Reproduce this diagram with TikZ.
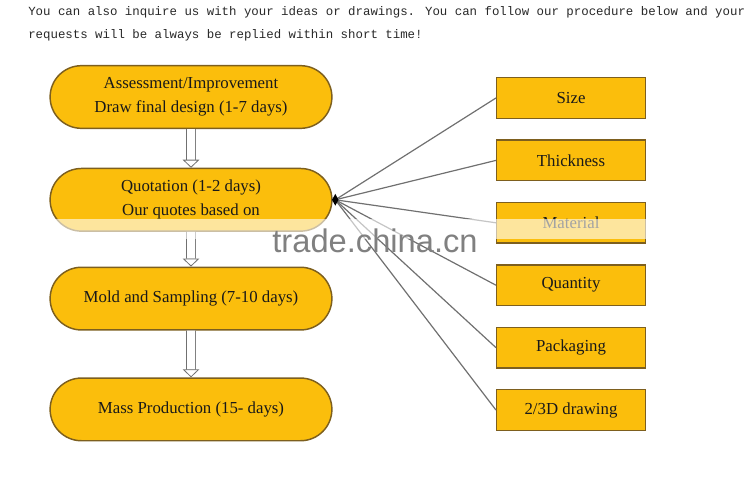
\documentclass[tikz,border=0pt]{standalone}
\usepackage{fontspec}
\setmainfont{Liberation Serif}
\newfontfamily\notefont{Liberation Mono}
\newfontfamily\markfont{Liberation Sans}
\usetikzlibrary{positioning,shapes.misc,shapes.geometric,arrows.meta}
\definecolor{stagefill}{RGB}{251,190,12}
\definecolor{stageline}{RGB}{125,95,30}
\definecolor{linkgray}{RGB}{112,112,112}
\definecolor{notegray}{RGB}{40,40,40}

\begin{document}
\begin{tikzpicture}[x=0.75pt,y=-0.75pt,
	stage/.style={rounded rectangle, draw=stageline, line width=1.1pt, fill=stagefill,
		minimum width=218pt, minimum height=47pt, align=center, text=black!90,
		font=\fontsize{12.6}{18}\selectfont},
	factor/.style={rectangle, draw=stageline, line width=1.1pt, fill=stagefill,
		minimum width=111.5pt, minimum height=30.5pt, text=black!90,
		font=\fontsize{12.6}{15}\selectfont},
	hollow/.style={draw=linkgray, line width=0.6pt, double=white, double distance=6pt,
		-{Triangle[open, length=6pt, width=12.5pt]}},
	link/.style={draw=linkgray, line width=0.9pt}]
	\useasboundingbox (0,0) rectangle (750,500);

	%% NOTE above the chart
	\node[anchor=west, inner sep=0, text=notegray, font=\notefont\fontsize{9.3}{11}\selectfont](note_a) at (28,12)
		{You can also inquire us with your ideas or drawings. You can follow our procedure below and your};
	\node[anchor=west, inner sep=0, text=notegray, font=\notefont\fontsize{9.3}{11}\selectfont](note_b) at (28,35)
		{requests will be always be replied within short time!};

	%% PROCEDURE stages
	\node[stage](assess) at (191,97){Assessment/Improvement\\Draw final design (1-7 days)};
	\node[stage, below=29pt of assess](quote){Quotation (1-2 days)\\Our quotes based on};
	\node[stage, below=26pt of quote](mold){Mold and Sampling (7-10 days)};
	\node[stage, below=35pt of mold](mass){Mass Production (15- days)};

	\draw[hollow] (assess) -- (quote);
	\draw[hollow] (quote) -- (mold);
	\draw[hollow] (mold) -- (mass);

	%% QUOTE factors
	\node[factor](size) at (571,98){Size};
	\node[factor, below=15.2pt of size](thickness){Thickness};
	\node[factor, below=15.2pt of thickness](material){Material};
	\node[factor, below=15.2pt of material](quantity){Quantity};
	\node[factor, below=15.2pt of quantity](packaging){Packaging};
	\node[factor, below=15.2pt of packaging](drawing){2/3D drawing};

	\foreach \f in {size,thickness,material,quantity,packaging,drawing}
		\draw[link] ([xshift=2pt]quote.east) -- (\f.west);
	\node[diamond, fill=black, inner sep=0pt, minimum width=5pt, minimum height=9pt](hub) at ([xshift=2pt]quote.east){};

	%% WATERMARK band
	\fill[white, opacity=0.6] (48,219) rectangle (744,239);
	\node[text=black!50, font=\markfont\fontsize{24.5}{26}\selectfont](mark) at (375,241){trade.china.cn};
\end{tikzpicture}
\end{document}
